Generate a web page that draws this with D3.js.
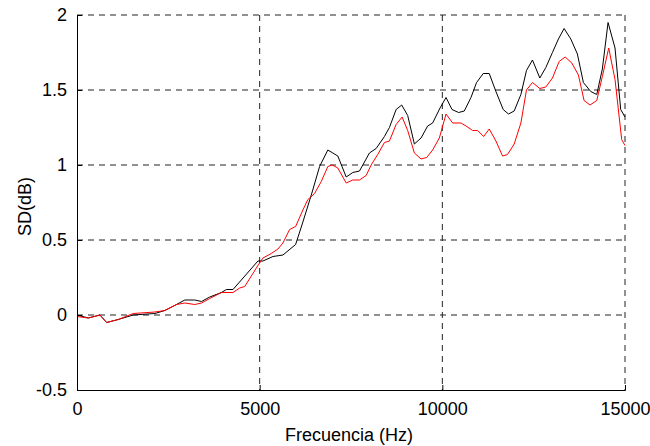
<!DOCTYPE html>
<html>
<head>
<meta charset="utf-8">
<script src="https://cdn.jsdelivr.net/npm/d3@7"></script>
<style>
  body { margin: 0; background: #fff; }
  text { font-family: "Liberation Sans", Arial, sans-serif; }
</style>
</head>
<body>
<div id="chart"></div>
<script>
// frequency (Hz) / SD (dB) pairs
const blackFreq = [0, 309, 628, 811, 1128, 1538, 2131, 2404, 2724, 2951, 3224, 3407, 3634, 3953, 4090, 4270,
  4953, 5090, 5363, 5637, 5984, 6183, 6413, 6640, 6866, 7003, 7139, 7369, 7549, 7732, 8005, 8188, 8415,
  8552, 8735, 8888, 9052, 9235, 9418, 9598, 9735, 9937, 10101, 10265, 10445, 10601, 10784, 10937, 11120,
  11284, 11467, 11666, 11811, 11967, 12150, 12303, 12467, 12669, 12833, 13014, 13178, 13333, 13516, 13697,
  13861, 14063, 14227, 14380, 14536, 14727, 14882, 15000];
const blackSD = [0.00, -0.02, 0.00, -0.05, -0.03, 0.00, 0.01, 0.03, 0.07, 0.10, 0.10, 0.09, 0.12, 0.15, 0.17, 0.17,
  0.36, 0.36, 0.39, 0.40, 0.47, 0.62, 0.80, 0.99, 1.10, 1.08, 1.06, 0.92, 0.95, 0.96, 1.08, 1.11, 1.19,
  1.25, 1.37, 1.40, 1.33, 1.14, 1.18, 1.26, 1.28, 1.38, 1.45, 1.37, 1.35, 1.36, 1.45, 1.55, 1.61,
  1.61, 1.49, 1.37, 1.34, 1.36, 1.47, 1.63, 1.70, 1.58, 1.65, 1.75, 1.84, 1.91, 1.84, 1.74,
  1.55, 1.49, 1.47, 1.64, 1.95, 1.78, 1.37, 1.32];

const redFreq = [0, 309, 628, 811, 1128, 1538, 2131, 2404, 2724, 2951, 3224, 3407, 3634, 3953, 4270, 4453,
  4590, 4953, 5090, 5318, 5500, 5637, 5820, 5984, 6183, 6320, 6503, 6686, 6866, 6986, 7139, 7369, 7549,
  7732, 7915, 8051, 8232, 8415, 8552, 8735, 8899, 9052, 9235, 9418, 9571, 9735, 9918, 10101, 10283,
  10512, 10649, 10831, 10967, 11131, 11284, 11467, 11648, 11784, 11967, 12150, 12303, 12467, 12669,
  12833, 13014, 13197, 13361, 13544, 13725, 13880, 14044, 14227, 14380, 14554, 14727, 14909, 15000];
const redSD = [-0.01, -0.02, 0.00, -0.05, -0.03, 0.01, 0.02, 0.03, 0.07, 0.08, 0.07, 0.08, 0.11, 0.15, 0.15, 0.18,
  0.19, 0.33, 0.38, 0.41, 0.44, 0.48, 0.57, 0.59, 0.70, 0.77, 0.81, 0.89, 0.99, 1.00, 0.98, 0.88, 0.90,
  0.90, 0.93, 1.00, 1.07, 1.15, 1.16, 1.27, 1.32, 1.23, 1.08, 1.04, 1.05, 1.10, 1.18, 1.34, 1.28,
  1.28, 1.26, 1.23, 1.23, 1.19, 1.24, 1.16, 1.06, 1.07, 1.14, 1.28, 1.50, 1.55, 1.51,
  1.52, 1.58, 1.69, 1.72, 1.68, 1.60, 1.43, 1.40, 1.43, 1.59, 1.78, 1.57, 1.17, 1.13];

const xTicks = [0, 5000, 10000, 15000];
const yTicks = [-0.5, 0, 0.5, 1, 1.5, 2];
const xLabel = "Frecuencia (Hz)";
const yLabel = "SD(dB)";

const config = {
  width: 650,
  height: 446,
  margin: { top: 15, right: 25, bottom: 56, left: 77 }
};
const innerW = config.width - config.margin.left - config.margin.right;
const innerH = config.height - config.margin.top - config.margin.bottom;

const svg = d3.select("#chart").append("svg")
  .attr("width", config.width)
  .attr("height", config.height);

const g = svg.append("g")
  .attr("transform", `translate(${config.margin.left},${config.margin.top})`);

const x = d3.scaleLinear().domain([0, 15000]).range([0, innerW]);
const y = d3.scaleLinear().domain([-0.5, 2]).range([innerH, 0]);

// dashed grid
g.append("g")
  .selectAll("line")
  .data(xTicks.slice(1))
  .join("line")
  .attr("x1", d => x(d)).attr("x2", d => x(d))
  .attr("y1", 0).attr("y2", innerH)
  .attr("stroke", "#222").attr("stroke-width", 1)
  .attr("stroke-dasharray", "6,5");

g.append("g")
  .selectAll("line")
  .data(yTicks.slice(1))
  .join("line")
  .attr("x1", 0).attr("x2", innerW)
  .attr("y1", d => y(d)).attr("y2", d => y(d))
  .attr("stroke", "#222").attr("stroke-width", 1)
  .attr("stroke-dasharray", "6,5");

// series
const line = d3.line().x(d => x(d[0])).y(d => y(d[1]));

g.append("path")
  .datum(d3.zip(blackFreq, blackSD))
  .attr("fill", "none")
  .attr("stroke", "#000")
  .attr("stroke-width", 1)
  .attr("d", line);

g.append("path")
  .datum(d3.zip(redFreq, redSD))
  .attr("fill", "none")
  .attr("stroke", "#ff0000")
  .attr("stroke-width", 1)
  .attr("d", line);

// axes (ticks pointing inward)
const xAxis = g.append("g")
  .attr("transform", `translate(0,${innerH})`)
  .call(d3.axisBottom(x).tickValues(xTicks).tickSize(-5).tickPadding(12).tickFormat(d3.format("d")));
const yAxis = g.append("g")
  .call(d3.axisLeft(y).tickValues(yTicks).tickSize(-5).tickPadding(10).tickFormat(d => d));

[xAxis, yAxis].forEach(a => {
  a.select(".domain").attr("stroke", "#000");
  a.selectAll(".tick line").attr("stroke", "#000");
  a.selectAll("text")
    .attr("fill", "#000")
    .style("font-size", "18px")
    .style("font-family", "'Liberation Sans', Arial, sans-serif");
});

svg.append("text")
  .attr("x", config.margin.left + innerW / 2 - 2)
  .attr("y", 441)
  .attr("text-anchor", "middle")
  .style("font-size", "18px")
  .text(xLabel);

svg.append("text")
  .attr("transform", `translate(31,${config.margin.top + innerH / 2 + 4}) rotate(-90)`)
  .attr("text-anchor", "middle")
  .style("font-size", "18px")
  .text(yLabel);
</script>
</body>
</html>
